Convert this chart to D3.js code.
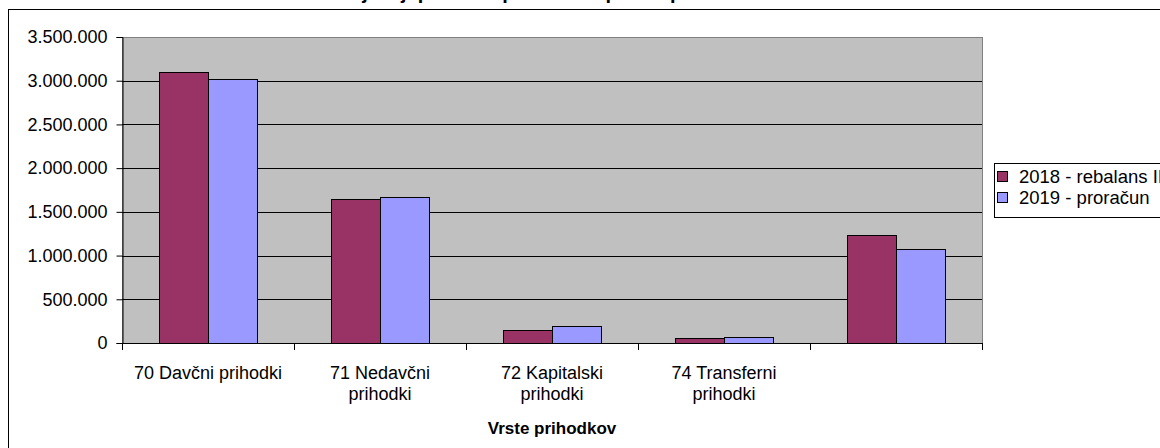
<!DOCTYPE html>
<head>
  <meta charset="utf-8">
  <title>Vrste prihodkov</title>
  <style>
    body { margin: 0; background: #fff; }
    text { font-family: "Liberation Sans", Arial, sans-serif; fill: #000; }
  </style>
</head>
<body>
<script src="https://d3js.org/d3.v7.min.js"></script>
<script>

    // data
    var categories = ["70 Davčni prihodki", "71 Nedavčni prihodki", "72 Kapitalski prihodki", "74 Transferni prihodki", ""];
    var seriesNames = ["2018 - rebalans II", "2019 - proračun"];
    var values2018 = [3095000, 1645000, 150000, 55000, 1235000];
    var values2019 = [3015000, 1668000, 198000, 72000, 1070000];
    var yTicks = [0, 500000, 1000000, 1500000, 2000000, 2500000, 3000000, 3500000];
    var colors = ["#993366", "#9999ff"];

    var W = 1160, H = 448;
    var plot = { left: 122, top: 37, right: 982, bottom: 343 };

    var svg = d3.select("body").append("svg")
        .attr("width", W)
        .attr("height", H);

    // chart area border (runs off the right and bottom edge)
    svg.append("rect")
        .attr("x", 8.5).attr("y", 9.5)
        .attr("width", 1200).attr("height", 500)
        .attr("fill", "#fff")
        .attr("stroke", "#000");

    // title, cut off at the top like in the original
    svg.append("text")
        .attr("x", 530).attr("y", -1)
        .attr("text-anchor", "middle")
        .style("font-size", "20px")
        .style("font-weight", "bold")
        .text("Največji prihodki proračuna po skupinah");

    var x = d3.scaleBand()
        .domain(d3.range(categories.length))
        .range([plot.left, plot.right])
        .padding(0);

    var y = d3.scaleLinear()
        .domain([0, 3500000])
        .range([plot.bottom, plot.top]);

    var groupW = x.bandwidth() * 2 / 3.5;
    var x1 = d3.scaleBand()
        .domain([0, 1])
        .range([0, groupW]);

    // plot area
    svg.append("rect")
        .attr("x", plot.left + 0.5).attr("y", plot.top + 0.5)
        .attr("width", plot.right - plot.left).attr("height", plot.bottom - plot.top)
        .attr("fill", "#c0c0c0")
        .attr("stroke", "#808080");

    // gridlines
    svg.append("g")
        .selectAll("line")
        .data(yTicks.filter(function(d) { return d > 0 && d < 3500000; }))
        .join("line")
        .attr("x1", plot.left).attr("x2", plot.right)
        .attr("y1", function(d) { return Math.round(y(d)) + 0.5; })
        .attr("y2", function(d) { return Math.round(y(d)) + 0.5; })
        .attr("stroke", "#000");

    // bars
    var series = [values2018, values2019];
    series.forEach(function(vals, s) {
        svg.append("g")
            .selectAll("rect")
            .data(vals)
            .join("rect")
            .attr("x", function(d, i) { return Math.round(x(i) + (x.bandwidth() - groupW) / 2 + x1(s)) + 0.5; })
            .attr("y", function(d) { return Math.round(y(d)) + 0.5; })
            .attr("width", Math.round(x1.bandwidth()))
            .attr("height", function(d) { return Math.round(plot.bottom - y(d)); })
            .attr("fill", colors[s])
            .attr("stroke", "#000");
    });

    // y axis
    var fmt = function(d) { return d3.format(",")(d).replace(/,/g, "."); };
    var yAxis = svg.append("g")
        .attr("transform", "translate(" + (plot.left + 0.5) + ",0)")
        .call(d3.axisLeft(y).tickValues(yTicks).tickFormat(fmt).tickSizeOuter(0).tickSize(6).tickPadding(9));
    yAxis.select(".domain").attr("stroke", "#000");
    yAxis.selectAll("line").attr("stroke", "#000");
    yAxis.selectAll("text")
        .attr("fill", "#000")
        .style("font-size", "18px")
        .style("font-family", "Liberation Sans, Arial, sans-serif");

    // x axis line and ticks at category boundaries
    var xa = svg.append("g");
    xa.append("line")
        .attr("x1", plot.left).attr("x2", plot.right + 1)
        .attr("y1", plot.bottom + 0.5).attr("y2", plot.bottom + 0.5)
        .attr("stroke", "#000");
    xa.selectAll("line.tick")
        .data(d3.range(categories.length + 1))
        .join("line")
        .attr("class", "tick")
        .attr("x1", function(i) { return Math.round(plot.left + i * x.bandwidth()) + 0.5; })
        .attr("x2", function(i) { return Math.round(plot.left + i * x.bandwidth()) + 0.5; })
        .attr("y1", plot.bottom).attr("y2", plot.bottom + 7)
        .attr("stroke", "#000");

    // category labels, wrapped like the original
    var wrapped = [["70 Davčni prihodki"], ["71 Nedavčni", "prihodki"], ["72 Kapitalski", "prihodki"], ["74 Transferni", "prihodki"], []];
    categories.forEach(function(c, i) {
        var t = svg.append("text")
            .attr("x", x(i) + x.bandwidth() / 2)
            .attr("y", 379)
            .attr("text-anchor", "middle")
            .style("font-size", "18px");
        wrapped[i].forEach(function(line, j) {
            t.append("tspan")
                .attr("x", x(i) + x.bandwidth() / 2)
                .attr("dy", j == 0 ? 0 : 21)
                .text(line);
        });
    });

    // axis title
    svg.append("text")
        .attr("x", (plot.left + plot.right) / 2)
        .attr("y", 434)
        .attr("text-anchor", "middle")
        .style("font-size", "17px")
        .style("font-weight", "bold")
        .text("Vrste prihodkov");

    // legend
    var lg = svg.append("g").attr("transform", "translate(994,163)");
    lg.append("rect")
        .attr("x", 0.5).attr("y", 0.5)
        .attr("width", 200).attr("height", 54)
        .attr("fill", "#fff")
        .attr("stroke", "#000");
    seriesNames.forEach(function(n, i) {
        lg.append("rect")
            .attr("x", 3.5).attr("y", 8.5 + i * 21)
            .attr("width", 10).attr("height", 10)
            .attr("fill", colors[i])
            .attr("stroke", "#000");
        lg.append("text")
            .attr("x", 25).attr("y", 20 + i * 21)
            .style("font-size", "18.5px")
            .text(n);
    });

</script>
</body>
